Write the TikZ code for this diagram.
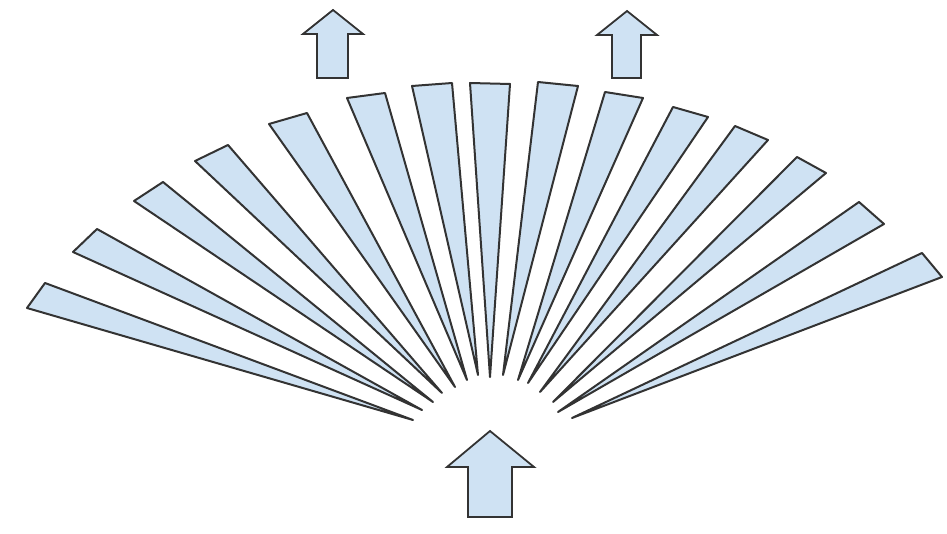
\documentclass[tikz,border=0pt]{standalone}
\definecolor{wedgefill}{HTML}{CFE2F3}
\definecolor{wedgeline}{HTML}{333333}
\tikzset{
  wedgestyle/.style={fill=wedgefill, draw=wedgeline, line width=2pt, line join=round},
  arrowshape/.style={fill=wedgefill, draw=wedgeline, line width=1.8pt, line join=miter}
}
\begin{document}
\begin{tikzpicture}[x=1pt,y=-1pt]
\useasboundingbox (0,0) rectangle (947,534);
% wedges: outer corner A, outer corner B, tip
\foreach \ax/\ay/\bx/\by/\tx/\ty in {
  45/283/27/308/413/420,
  97/229/73/252/422/410,
  163/182/134/201/433/402,
  228/145/195/161/442/393,
  307/113/269/124/455/387,
  385/93/347/98/467/380,
  452/83/412/86/478/375,
  510/84/470/83/490/377,
  578/86/538/82/503/375,
  643/98/605/92/518/380,
  708/117/673/107/528/383,
  768/140/735/126/540/392,
  826/173/797/157/553/402,
  884/224/859/202/558/412,
  942/277/922/253/572/418}
{
  \draw[wedgestyle] (\ax,\ay) -- (\bx,\by) -- (\tx,\ty) -- cycle;
}
% small arrows at top
\draw[arrowshape] (333,10) -- (363,34) -- (348,34) -- (348,78) -- (317,78) -- (317,34) -- (303,34) -- cycle;
\draw[arrowshape] (627,11) -- (657,35) -- (641,35) -- (641,78) -- (612,78) -- (612,35) -- (597,35) -- cycle;
% big arrow at bottom
\draw[arrowshape] (490,431) -- (534,467) -- (512,467) -- (512,517) -- (468,517) -- (468,467) -- (447,467) -- cycle;
\end{tikzpicture}
\end{document}
